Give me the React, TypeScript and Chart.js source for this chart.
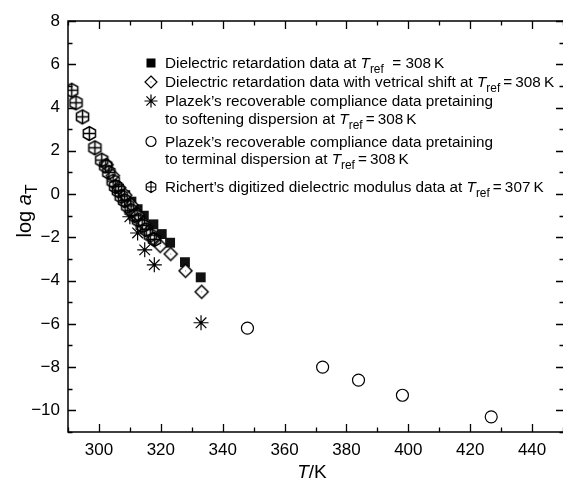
import React, { useEffect, useRef } from 'react';
import { Chart, registerables } from 'chart.js';

Chart.register(...registerables);

// ---------------- data ----------------
const xTickValues = [300, 320, 340, 360, 380, 400, 420, 440];
const yTickValues = [-10, -8, -6, -4, -2, 0, 2, 4, 6, 8];

// Dielectric retardation data (filled squares)
const retardT = [306.5, 308.5, 310.5, 312.5, 314.5, 317.6, 320.3, 323.0, 327.8, 332.9];
const retardLog = [0.25, -0.05, -0.35, -0.7, -1.0, -1.4, -1.85, -2.25, -3.15, -3.85];

// Dielectric retardation data with vertical shift (open diamonds)
const shiftT = [302.5, 304.5, 306.5, 308.5, 310.5, 312.5, 314.5, 317.5, 319.8, 323.2, 328.0, 333.2];
const shiftLog = [1.35, 0.85, 0.3, -0.05, -0.5, -0.95, -1.35, -2.05, -2.4, -2.77, -3.55, -4.52];

// Plazek softening dispersion (asterisks)
const softT = [310.0, 312.5, 314.8, 317.9, 333.0];
const softLog = [-1.05, -1.8, -2.58, -3.27, -5.95];

// Plazek terminal dispersion (open circles)
const termT = [348.0, 372.3, 383.9, 398.1, 426.8];
const termLog = [-6.2, -8.0, -8.6, -9.3, -10.3];

// Richert digitized dielectric modulus (crossed hexagons)
const richT = [291.2, 292.6, 294.7, 296.9, 298.7, 300.9, 302.2, 303.2, 304.6, 305.4, 306.3, 307.2, 308.3, 309.3, 310.4, 311.6, 312.8, 314.0, 315.3, 316.6, 318.0];
const richLog = [4.8, 4.22, 3.57, 2.8, 2.14, 1.57, 1.3, 1.0, 0.6, 0.35, 0.15, -0.1, -0.3, -0.55, -0.75, -1.0, -1.2, -1.45, -1.65, -1.9, -2.1];

// legend lines: [text, style] with style n = normal, i = italic, s = subscript
type Seg = [string, string];
const legendEntries: { marker: string; lines: Seg[][] }[] = [
  { marker: 'square', lines: [[['Dielectric retardation data at ', 'n'], ['T', 'i'], ['ref', 's'], ['  = 308\u2009K', 'n']]] },
  { marker: 'diamond', lines: [[['Dielectric retardation data with vetrical shift at ', 'n'], ['T', 'i'], ['ref', 's'], ['\u2009=\u2009308\u2009K', 'n']]] },
  { marker: 'star', lines: [[['Plazek\u2019s recoverable compliance data pretaining', 'n']], [['to softening dispersion at ', 'n'], ['T', 'i'], ['ref', 's'], ['\u2009=\u2009308\u2009K', 'n']]] },
  { marker: 'circle', lines: [[['Plazek\u2019s recoverable compliance data pretaining', 'n']], [['to terminal dispersion at ', 'n'], ['T', 'i'], ['ref', 's'], ['\u2009=\u2009308\u2009K', 'n']]] },
  { marker: 'hex', lines: [[['Richert\u2019s digitized dielectric modulus data at ', 'n'], ['T', 'i'], ['ref', 's'], ['\u2009=\u2009307\u2009K', 'n']]] },
];

const FONT = '"Liberation Sans", Arial, Helvetica, sans-serif';

function pts(xs: number[], ys: number[]) {
  return xs.map((x, i) => ({ x, y: ys[i] }));
}

function drawHex(g: CanvasRenderingContext2D, cx: number, cy: number, r: number) {
  g.beginPath();
  for (let i = 0; i < 6; i++) {
    const a = Math.PI / 2 + (i * Math.PI) / 3;
    const px = cx + r * Math.cos(a);
    const py = cy + r * Math.sin(a);
    if (i === 0) g.moveTo(px, py);
    else g.lineTo(px, py);
  }
  g.closePath();
  g.moveTo(cx, cy - r);
  g.lineTo(cx, cy + r);
  const hw = r * Math.cos(Math.PI / 6);
  g.moveTo(cx - hw, cy);
  g.lineTo(cx + hw, cy);
  g.stroke();
}

function drawDiamond(g: CanvasRenderingContext2D, cx: number, cy: number, r: number) {
  g.beginPath();
  g.moveTo(cx, cy - r);
  g.lineTo(cx + r, cy);
  g.lineTo(cx, cy + r);
  g.lineTo(cx - r, cy);
  g.closePath();
  g.fillStyle = '#fff';
  g.fill();
  g.stroke();
  g.fillStyle = '#777';
  g.fillRect(cx - 0.5, cy - 0.5, 1, 1);
}

function makeImage(kind: string, r: number) {
  const s = 2 * Math.ceil(r + 2) + 1;
  const c = document.createElement('canvas');
  c.width = s;
  c.height = s;
  const g = c.getContext('2d')!;
  g.strokeStyle = '#000';
  g.lineWidth = 1.5;
  if (kind === 'hex') drawHex(g, s / 2, s / 2, r);
  else drawDiamond(g, s / 2, s / 2, r);
  return c;
}

function drawMarker(g: CanvasRenderingContext2D, kind: string, cx: number, cy: number) {
  g.save();
  g.strokeStyle = '#000';
  g.fillStyle = '#000';
  g.lineWidth = 1.2;
  if (kind === 'square') {
    g.fillRect(cx - 4.5, cy - 4.5, 9, 9);
  } else if (kind === 'diamond') {
    drawDiamond(g, cx, cy, 6);
  } else if (kind === 'star') {
    const r = 6.5;
    g.beginPath();
    for (let i = 0; i < 4; i++) {
      const a = (i * Math.PI) / 4;
      g.moveTo(cx - r * Math.cos(a), cy - r * Math.sin(a));
      g.lineTo(cx + r * Math.cos(a), cy + r * Math.sin(a));
    }
    g.stroke();
  } else if (kind === 'circle') {
    g.beginPath();
    g.arc(cx, cy, 5, 0, Math.PI * 2);
    g.stroke();
  } else if (kind === 'hex') {
    drawHex(g, cx, cy, 5.5);
  }
  g.restore();
}

function drawRich(g: CanvasRenderingContext2D, x: number, y: number, segs: Seg[], size: number) {
  let cx = x;
  for (const [t, st] of segs) {
    if (st === 's') {
      g.font = `${size * 0.78}px ${FONT}`;
      g.fillText(t, cx, y + size * 0.32);
    } else if (st === 'i') {
      g.font = `italic ${size}px ${FONT}`;
      g.fillText(t, cx, y);
    } else {
      g.font = `${size}px ${FONT}`;
      g.fillText(t, cx, y);
    }
    cx += g.measureText(t).width;
  }
  return cx - x;
}

const framePlugin = {
  id: 'frameAndText',
  afterDraw(chart: any) {
    const { ctx, chartArea } = chart;
    const { left, right, top, bottom } = chartArea;
    const xs = chart.scales.x;
    const ys = chart.scales.y;
    ctx.save();
    ctx.strokeStyle = '#000';
    ctx.lineWidth = 1.5;
    ctx.beginPath();
    ctx.moveTo(right + 2, top);
    ctx.lineTo(left, top);
    ctx.lineTo(left, bottom);
    ctx.lineTo(right + 2, bottom);
    ctx.stroke();

    ctx.lineWidth = 1.3;
    ctx.beginPath();
    for (let v = 290; v <= 450; v += 10) {
      const px = Math.round(xs.getPixelForValue(v)) + 0.5;
      const len = v % 20 === 0 ? 8 : 4.5;
      ctx.moveTo(px, bottom);
      ctx.lineTo(px, bottom - len);
      ctx.moveTo(px, top);
      ctx.lineTo(px, top + len);
    }
    for (let v = -11; v <= 8; v += 1) {
      const py = Math.round(ys.getPixelForValue(v)) + 0.5;
      const len = v % 2 === 0 ? 8 : 4.5;
      ctx.moveTo(left, py);
      ctx.lineTo(left + len, py);
      ctx.moveTo(right + 1, py);
      ctx.lineTo(right + 1 - len, py);
    }
    ctx.stroke();

    // axis titles
    ctx.fillStyle = '#000';
    ctx.textBaseline = 'alphabetic';
    ctx.textAlign = 'left';
    // x title: T/K
    const tsize = 19;
    ctx.font = `italic ${tsize}px ${FONT}`;
    const wT = ctx.measureText('T').width;
    ctx.font = `${tsize}px ${FONT}`;
    const wK = ctx.measureText('/K').width;
    const xc = 312;
    const sx = xc - (wT + wK) / 2;
    ctx.font = `italic ${tsize}px ${FONT}`;
    ctx.fillText('T', sx, 478);
    ctx.font = `${tsize}px ${FONT}`;
    ctx.fillText('/K', sx + wT, 478);

    // y title: log a_T (rotated)
    const ysize = 20;
    ctx.save();
    ctx.translate(31, 211);
    ctx.rotate(-Math.PI / 2);
    const segsY: Seg[] = [['log ', 'n'], ['a', 'i'], ['T', 's']];
    ctx.font = `${ysize}px ${FONT}`;
    let w = ctx.measureText('log ').width;
    ctx.font = `italic ${ysize}px ${FONT}`;
    w += ctx.measureText('a').width;
    ctx.font = `${ysize * 0.78}px ${FONT}`;
    w += ctx.measureText('T').width;
    drawRich(ctx, -w / 2, 0, segsY, ysize);
    ctx.restore();

    // legend
    const lsize = 15.3;
    const rows = [[63], [82], [101, 118.5], [141.5, 158.5], [187]];
    legendEntries.forEach((e, i) => {
      const ys2 = rows[i];
      drawMarker(ctx, e.marker, 151, ys2[0]);
      e.lines.forEach((ln, j) => {
        ctx.fillStyle = '#000';
        drawRich(ctx, 165, ys2[j] + 5.3, ln, lsize);
      });
    });
    ctx.restore();
  },
};

export default function App() {
  const ref = useRef<HTMLCanvasElement | null>(null);
  useEffect(() => {
    if (!ref.current) return;
    const hexImg = makeImage('hex', 7);
    const diaImg = makeImage('diamond', 6.5);
    const fmt = (v: number) => (v < 0 ? '\u2212' + Math.abs(v) : String(v));
    const chart = new Chart(ref.current, {
      type: 'scatter',
      data: {
        datasets: [
          {
            label: 'Richert',
            data: pts(richT, richLog),
            pointStyle: hexImg as any,
            pointRadius: 7,
          },
          {
            label: 'shift',
            data: pts(shiftT, shiftLog),
            pointStyle: diaImg as any,
            pointRadius: 7,
          },
          {
            label: 'retard',
            data: pts(retardT, retardLog),
            pointStyle: 'rect',
            pointRadius: 7,
            backgroundColor: '#111',
            borderColor: '#111',
            borderWidth: 0,
          },
          {
            label: 'soft',
            data: pts(softT, softLog),
            pointStyle: 'star',
            pointRadius: 7.5,
            borderColor: '#000',
            borderWidth: 1.2,
            backgroundColor: 'transparent',
          },
          {
            label: 'term',
            data: pts(termT, termLog),
            pointStyle: 'circle',
            pointRadius: 6,
            borderColor: '#000',
            borderWidth: 1.2,
            backgroundColor: 'transparent',
          },
        ],
      },
      options: {
        responsive: false,
        animation: false,
        devicePixelRatio: 1,
        layout: { autoPadding: false, padding: { left: 0, right: 0, top: 21, bottom: 0 } },
        plugins: { legend: { display: false }, tooltip: { enabled: false } },
        events: [],
        scales: {
          x: {
            type: 'linear',
            min: 290,
            max: 450,
            afterBuildTicks: (s: any) => {
              s.ticks = xTickValues.map((v) => ({ value: v }));
            },
            afterFit: (s: any) => {
              s.height = 48;
              s.paddingLeft = 0;
              s.paddingRight = 0;
            },
            grid: { display: false, drawTicks: false },
            border: { display: false },
            ticks: {
              padding: 8,
              color: '#000',
              font: { family: FONT, size: 17 },
              callback: (v: any) => fmt(Number(v)),
              maxRotation: 0,
              autoSkip: false,
            },
          },
          y: {
            type: 'linear',
            min: -11,
            max: 8,
            afterBuildTicks: (s: any) => {
              s.ticks = yTickValues.map((v) => ({ value: v }));
            },
            afterFit: (s: any) => {
              s.width = 68;
              s.paddingTop = 0;
              s.paddingBottom = 0;
            },
            grid: { display: false, drawTicks: false },
            border: { display: false },
            ticks: {
              padding: 8,
              color: '#000',
              font: { family: FONT, size: 17 },
              callback: (v: any) => fmt(Number(v)),
              autoSkip: false,
            },
          },
        },
      },
      plugins: [framePlugin],
    });
    return () => chart.destroy();
  }, []);
  return (
    <div style={{ position: 'absolute', left: 0, top: 0, width: 563, height: 480, background: '#fff' }}>
      <canvas ref={ref} width={563} height={480} />
    </div>
  );
}
